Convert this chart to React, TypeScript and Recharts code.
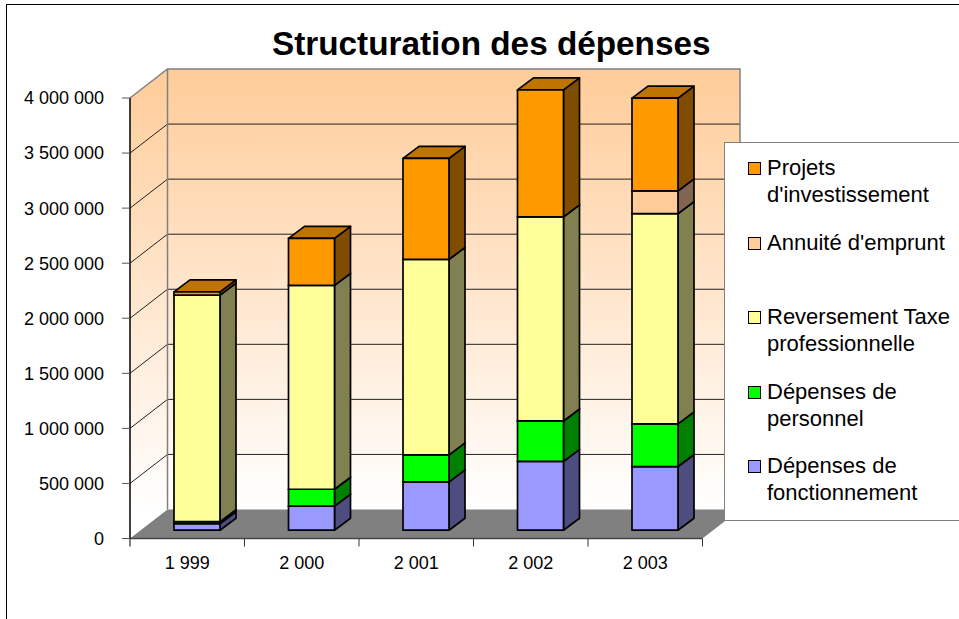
import { BarChart, Bar, XAxis, YAxis, usePlotArea } from 'recharts'

const years = ['1 999', '2 000', '2 001', '2 002', '2 003']
const fonctionnement = [60000, 218000, 439000, 625000, 578000]
const personnel = [18000, 154000, 245000, 367000, 387000]
const reversement = [2056000, 1851000, 1775000, 1853000, 1910000]
const annuite = [0, 0, 0, 0, 206000]
const projets = [30000, 427000, 917000, 1153000, 842000]
const yTicks = [0, 500000, 1000000, 1500000, 2000000, 2500000, 3000000, 3500000, 4000000]

const data = years.map((year, i) => ({
  year,
  fonctionnement: fonctionnement[i],
  personnel: personnel[i],
  reversement: reversement[i],
  annuite: annuite[i],
  projets: projets[i],
}))

// front, side and top shades of each stack segment
const series = [
  { key: 'fonctionnement', front: '#9999FF', side: '#4D4D80', top: '#7373BF' },
  { key: 'personnel', front: '#00FF00', side: '#008000', top: '#00BF00' },
  { key: 'reversement', front: '#FFFF99', side: '#808050', top: '#BFBF73' },
  { key: 'annuite', front: '#FFCC99', side: '#806650', top: '#BF9973' },
  { key: 'projets', front: '#FF9900', side: '#804D00', top: '#BF7300' },
]

const legendItems = [
  { lines: ['Projets', "d'investissement"], color: '#FF9900', y: 168 },
  { lines: ["Annuité d'emprunt"], color: '#FFCC99', y: 243 },
  { lines: ['Reversement Taxe', 'professionnelle'], color: '#FFFF99', y: 317 },
  { lines: ['Dépenses de', 'personnel'], color: '#00FF00', y: 392 },
  { lines: ['Dépenses de', 'fonctionnement'], color: '#9999FF', y: 466 },
]

const FONT = '"Liberation Sans", Arial, sans-serif'
const WALL_DX = 37.5
const WALL_DY = 29
const BAR_DX = 10
const BAR_DY = 8.3
const DEPTH_X = 16
const DEPTH_Y = 12

function Walls() {
  const plot = usePlotArea()
  if (!plot) return null
  const { x, y, width, height } = plot
  const bottom = y + height
  const right = x + width
  const band = width / years.length
  const max = yTicks[yTicks.length - 1]
  return (
    <g>
      <defs>
        <linearGradient id="wall" gradientUnits="userSpaceOnUse" x1="0" y1={y - WALL_DY} x2="0" y2={bottom - WALL_DY}>
          <stop offset="0%" stopColor="#FFCC99" />
          <stop offset="100%" stopColor="#FFFFFF" />
        </linearGradient>
      </defs>
      <polygon points={`${x},${y} ${x + WALL_DX},${y - WALL_DY} ${x + WALL_DX},${bottom - WALL_DY} ${x},${bottom}`} fill="url(#wall)" />
      <rect x={x + WALL_DX} y={y - WALL_DY} width={width} height={height} fill="url(#wall)" />
      {yTicks.slice(1, -1).map(t => {
        const ty = y + height * (1 - t / max)
        return (
          <polyline
            key={t}
            points={`${x},${ty} ${x + WALL_DX},${ty - WALL_DY} ${right + WALL_DX},${ty - WALL_DY}`}
            fill="none"
            stroke="#222"
            strokeWidth={1}
          />
        )
      })}
      <polyline
        points={`${x},${y} ${x + WALL_DX},${y - WALL_DY} ${right + WALL_DX},${y - WALL_DY} ${right + WALL_DX},${bottom - WALL_DY}`}
        fill="none"
        stroke="#808080"
        strokeWidth={1.5}
      />
      <line x1={x + WALL_DX} y1={y - WALL_DY} x2={x + WALL_DX} y2={bottom - WALL_DY} stroke="#808080" strokeWidth={1.5} />
      <polygon
        points={`${x},${bottom} ${x + WALL_DX},${bottom - WALL_DY} ${right + WALL_DX},${bottom - WALL_DY} ${right},${bottom}`}
        fill="#808080"
      />
      {years.map((_, i) => (
        <line key={i} x1={x + band * (i + 1)} y1={bottom} x2={x + band * (i + 1)} y2={bottom + 8} stroke="#333" />
      ))}
      <line x1={x} y1={bottom} x2={x} y2={bottom + 8} stroke="#000" />
    </g>
  )
}

// eslint-disable-next-line @typescript-eslint/no-explicit-any
const Box3D = (colors: { front: string; side: string; top: string }) => (props: any) => {
  const { x, y, width, height } = props
  if (!height) return null
  const l = x + BAR_DX
  const r = l + width
  const t = y - BAR_DY
  const b = t + height
  return (
    <g stroke="#000" strokeWidth={1.7} strokeLinejoin="round">
      <polygon points={`${r},${t} ${r + DEPTH_X},${t - DEPTH_Y} ${r + DEPTH_X},${b - DEPTH_Y} ${r},${b}`} fill={colors.side} />
      <polygon points={`${l},${t} ${l + DEPTH_X},${t - DEPTH_Y} ${r + DEPTH_X},${t - DEPTH_Y} ${r},${t}`} fill={colors.top} />
      <rect x={l} y={t} width={width} height={height} fill={colors.front} />
    </g>
  )
}

export default function App() {
  return (
    <div style={{ position: 'absolute', left: 0, top: 0, width: 959, height: 619, overflow: 'hidden', background: '#fff', fontFamily: FONT }}>
      <BarChart
        width={959}
        height={619}
        data={data}
        barSize={46}
        margin={{ top: 98, right: 256.5, bottom: 0, left: 0 }}
      >
        <Walls />
        <XAxis
          dataKey="year"
          height={80.5}
          tickLine={false}
          axisLine={{ stroke: '#444', strokeWidth: 1.5 }}
          tick={{ fill: '#000', fontSize: 18 }}
          tickMargin={12}
          interval={0}
        />
        <YAxis
          width={130}
          domain={[0, 4000000]}
          ticks={yTicks}
          interval={0}
          tickFormatter={(v: number) => v.toLocaleString('fr-FR').replace(/\s/g, ' ')}
          tick={{ fill: '#000', fontSize: 18 }}
          tickSize={8}
          tickMargin={18}
          tickLine={{ stroke: '#555' }}
          axisLine={{ stroke: '#000', strokeWidth: 1.5 }}
        />
        {series.map(s => (
          <Bar key={s.key} dataKey={s.key} stackId="a" fill={s.front} shape={Box3D(s)} isAnimationActive={false} />
        ))}
      </BarChart>

      <div style={{ position: 'absolute', left: 6, top: 4, right: -10, bottom: -10, borderLeft: '1.5px solid #000', borderTop: '1.5px solid #000' }} />
      <div style={{ position: 'absolute', left: 272, top: 25, fontSize: 33.3, fontWeight: 'bold', whiteSpace: 'nowrap' }}>
        Structuration des dépenses
      </div>

      {/* legend box runs off the right of the picture */}
      <div style={{ position: 'absolute', left: 724, top: 142, width: 260, height: 377, background: '#fff', border: '1.5px solid #808080' }} />
      {legendItems.map(item => (
        <div key={item.color}>
          <div style={{ position: 'absolute', left: 748, top: item.y - 6, width: 11, height: 11, background: item.color, border: '1px solid #000' }} />
          {item.lines.map((line, i) => (
            <div
              key={line}
              style={{ position: 'absolute', left: 767, top: item.y - 13 + i * 26.7, fontSize: 22, lineHeight: '26px', whiteSpace: 'nowrap' }}
            >
              {line}
            </div>
          ))}
        </div>
      ))}
    </div>
  )
}
